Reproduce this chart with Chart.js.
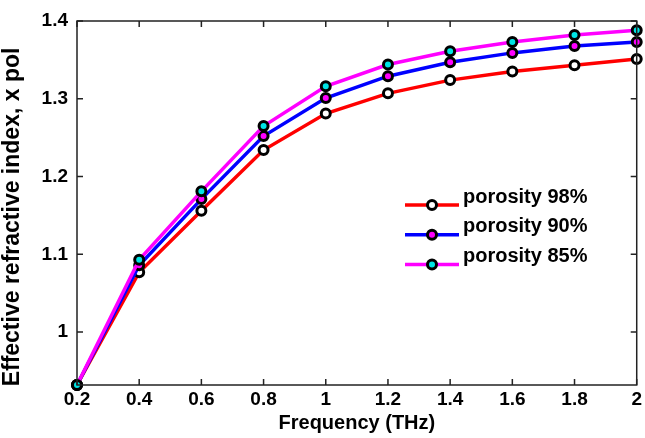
<!DOCTYPE html>
<html>
<head>
<meta charset="utf-8">
<script src="https://cdn.jsdelivr.net/npm/chart.js@4"></script>
<style>
  html, body { margin: 0; padding: 0; background: #fff; }
  #wrap { width: 645px; height: 438px; }
</style>
</head>
<body>
<div id="wrap"><canvas id="grafico"></canvas></div>
<script>
var frecuencias = [0.2, 0.4, 0.6, 0.8, 1.0, 1.2, 1.4, 1.6, 1.8, 2.0];
var porosidad98 = [0.932, 1.077, 1.156, 1.234, 1.281, 1.307, 1.324, 1.335, 1.343, 1.351];
var porosidad90 = [0.932, 1.086, 1.171, 1.252, 1.301, 1.329, 1.347, 1.359, 1.368, 1.373];
var porosidad85 = [0.932, 1.093, 1.181, 1.265, 1.316, 1.344, 1.361, 1.373, 1.382, 1.388];
var etiquetas = ["porosity 98%", "porosity 90%", "porosity 85%"];
var tituloY = 'Effective refractive index, x pol';

var fuente = "'Liberation Sans', Arial, sans-serif";

function puntos(valores) {
    return frecuencias.map(function (f, i) { return { x: f, y: valores[i] }; });
}

function serie(nombre, valores, color, relleno, orden) {
    return {
        label: nombre,
        data: puntos(valores),
        borderColor: color,
        backgroundColor: color,
        borderWidth: 3.5,
        pointRadius: 4.5,
        pointBorderWidth: 3,
        pointBorderColor: '#000',
        pointBackgroundColor: relleno,
        tension: 0,
        clip: false,
        order: orden
    };
}

// caja completa con marcas hacia adentro, titulo Y y leyenda dentro del area
var cajaYLeyenda = {
    id: 'cajaYLeyenda',
    afterDatasetsDraw: function (chart) {
        var ctx = chart.ctx;
        var a = chart.chartArea;
        var sx = chart.scales.x, sy = chart.scales.y;
        ctx.save();
        ctx.strokeStyle = '#222';
        ctx.lineWidth = 1.5;
        ctx.strokeRect(a.left, a.top, a.right - a.left, a.bottom - a.top);
        ctx.beginPath();
        sx.ticks.forEach(function (t) {
            var px = sx.getPixelForValue(t.value);
            ctx.moveTo(px, a.bottom); ctx.lineTo(px, a.bottom - 6);
            ctx.moveTo(px, a.top); ctx.lineTo(px, a.top + 6);
        });
        sy.ticks.forEach(function (t) {
            var py = sy.getPixelForValue(t.value);
            ctx.moveTo(a.left, py); ctx.lineTo(a.left + 6, py);
            ctx.moveTo(a.right, py); ctx.lineTo(a.right - 6, py);
        });
        ctx.stroke();

        // titulo del eje y
        ctx.save();
        ctx.translate(13, 217);
        ctx.rotate(-Math.PI / 2);
        ctx.font = 'bold 23px ' + fuente;
        ctx.textAlign = 'center';
        ctx.textBaseline = 'middle';
        ctx.fillStyle = '#000';
        ctx.fillText(tituloY, 0, 0);
        ctx.restore();

        // leyenda
        var lx = a.left + 328, ly = a.top + 184, paso = 29.7;
        ctx.font = 'bold 20px ' + fuente;
        ctx.textBaseline = 'middle';
        [0, 1, 2].forEach(function (k, i) {
            var ds = chart.data.datasets[k];
            var y = ly + i * paso;
            ctx.strokeStyle = ds.borderColor;
            ctx.lineWidth = 3.5;
            ctx.beginPath();
            ctx.moveTo(lx, y); ctx.lineTo(lx + 54, y);
            ctx.stroke();
            ctx.beginPath();
            ctx.arc(lx + 27, y, 4.5, 0, Math.PI * 2);
            ctx.fillStyle = ds.pointBackgroundColor;
            ctx.fill();
            ctx.lineWidth = 3;
            ctx.strokeStyle = '#000';
            ctx.stroke();
            ctx.fillStyle = '#000';
            ctx.fillText(ds.label, lx + 58, y - 8);
        });
        ctx.restore();
    }
};

function formato(v) {
    return String(+(+v).toFixed(1));
}

var grafico = new Chart(document.getElementById('grafico'), {
    type: 'line',
    data: {
        datasets: [
            serie(etiquetas[0], porosidad98, '#ff0000', '#ffffff', 3),
            serie(etiquetas[1], porosidad90, '#0000ff', '#ff00ff', 2),
            serie(etiquetas[2], porosidad85, '#ff00ff', '#00e5e5', 1)
        ]
    },
    options: {
        responsive: true,
        maintainAspectRatio: false,
        animation: false,
        layout: { padding: { top: 21, right: 8, left: 0, bottom: 0 } },
        plugins: {
            legend: { display: false },
            tooltip: { enabled: false }
        },
        scales: {
            x: {
                type: 'linear',
                min: 0.2,
                max: 2,
                grid: { display: false, drawTicks: false },
                border: { display: false },
                ticks: {
                    stepSize: 0.2,
                    color: '#000',
                    padding: 3,
                    maxRotation: 0,
                    font: { family: fuente, size: 19, weight: 'bold' },
                    callback: formato
                },
                title: {
                    display: true,
                    text: 'Frequency (THz)',
                    color: '#000',
                    padding: { top: 0, bottom: 3 },
                    font: { family: fuente, size: 20, weight: 'bold' }
                },
                afterFit: function (s) { s.height = 53; }
            },
            y: {
                min: 0.932,
                max: 1.4,
                grid: { display: false, drawTicks: false },
                border: { display: false },
                ticks: {
                    stepSize: 0.1,
                    color: '#000',
                    padding: 9,
                    font: { family: fuente, size: 19, weight: 'bold' },
                    callback: formato
                },
                afterBuildTicks: function (s) {
                    s.ticks = s.ticks.filter(function (t) {
                        return Math.abs(t.value * 10 - Math.round(t.value * 10)) < 1e-6;
                    });
                },
                afterFit: function (s) { s.width = 77; }
            }
        }
    },
    plugins: [cajaYLeyenda]
});
</script>
</body>
</html>
